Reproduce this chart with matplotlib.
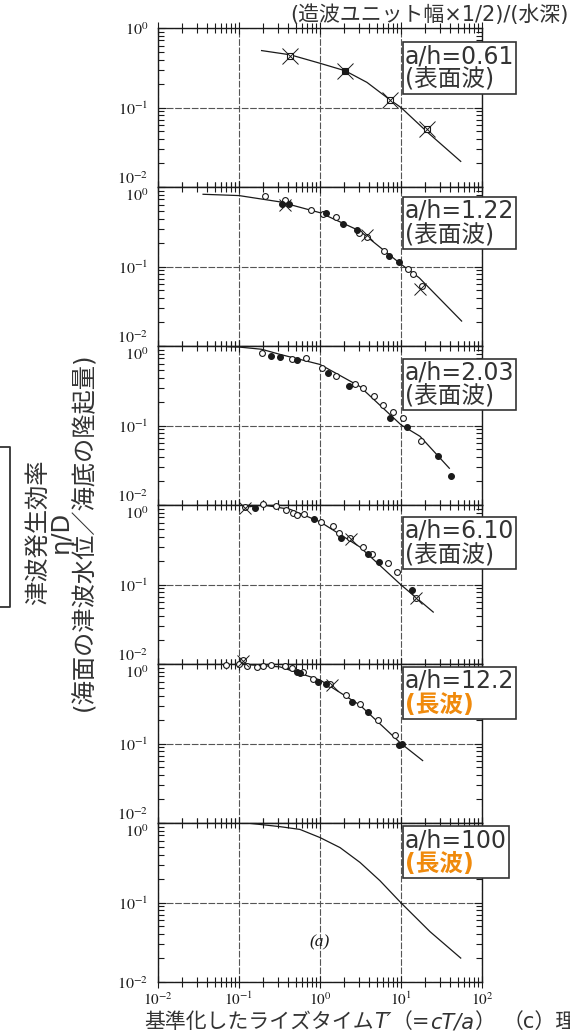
import numpy as np
import matplotlib
matplotlib.use("Agg")
import matplotlib.pyplot as plt
from matplotlib.lines import Line2D
from matplotlib.ticker import LogLocator, NullFormatter
from matplotlib.offsetbox import TextArea, HPacker, VPacker, AnnotationBbox

plt.rcParams['font.family'] = ['DejaVu Sans', 'Noto Sans CJK JP']
plt.rcParams['mathtext.fontset'] = 'stix'

# panel labels
ratios = ["0.61", "1.22", "2.03", "6.10", "12.2", "100"]
wave_types = ["(表面波)", "(表面波)", "(表面波)", "(表面波)", "(長波)", "(長波)"]
long_wave = [False, False, False, False, True, True]

# fitted curves
curve_x = [
    [0.19, 0.43, 1.0, 2.04, 3.8, 7.3, 10, 20.7, 54.6],
    [0.036, 0.1, 0.32, 1.0, 3.1, 10, 16.8, 56],
    [0.073, 0.1, 0.19, 0.32, 1.0, 3.1, 10, 17.2, 39.5],
    [0.113, 0.2, 0.43, 1.0, 3.1, 10, 25],
    [0.06, 0.1, 0.32, 1.0, 3.1, 10, 18.5],
    [0.04, 0.137, 0.32, 0.566, 1.0, 1.77, 3.12, 5.5, 10, 22.8, 54.6],
]
curve_y = [
    [0.52, 0.46, 0.36, 0.29, 0.207, 0.125, 0.1, 0.05, 0.021],
    [0.81, 0.78, 0.65, 0.475, 0.28, 0.107, 0.072, 0.0206],
    [0.98, 0.97, 0.91, 0.785, 0.586, 0.31, 0.102, 0.073, 0.029],
    [0.93, 1.0, 0.88, 0.615, 0.297, 0.099, 0.045],
    [1.0, 1.0, 0.92, 0.63, 0.305, 0.10, 0.061],
    [1.0, 0.99, 0.9, 0.83, 0.656, 0.49, 0.319, 0.188, 0.099, 0.043, 0.020],
]

# open symbols
open_x = [
    [0.43, 7.3, 20.7],
    [0.209, 0.37, 0.77, 1.1, 1.58, 3.06, 3.78, 6.17, 12.3, 14.2, 18],
    [0.19, 0.447, 0.67, 1.05, 1.58, 2.7, 3.36, 4.64, 6.05, 8.04, 10.7, 17.5],
    [0.119, 0.196, 0.29, 0.38, 0.46, 0.515, 0.634, 1.03, 1.43, 1.73, 2.35, 3.43,
     4.43, 6.97, 8.85, 15.3],
    [0.069, 0.101, 0.111, 0.124, 0.165, 0.2, 0.246, 0.37, 0.447, 0.61, 0.83, 1.33,
     2.09, 3.12, 5.25, 8.43],
    [],
]
open_y = [
    [0.44, 0.125, 0.053],
    [0.77, 0.68, 0.51, 0.46, 0.42, 0.266, 0.235, 0.157, 0.092, 0.080, 0.057],
    [0.82, 0.69, 0.705, 0.53, 0.425, 0.337, 0.297, 0.233, 0.183, 0.146, 0.124, 0.064],
    [0.95, 1.03, 0.97, 0.865, 0.80, 0.75, 0.77, 0.615, 0.54, 0.447, 0.379, 0.30,
     0.245, 0.186, 0.143, 0.068],
    [0.97, 1.0, 1.12, 0.94, 0.925, 0.94, 0.97, 0.94, 0.88, 0.80, 0.64, 0.56,
     0.41, 0.314, 0.198, 0.128],
    [],
]

# filled symbols
filled_x = [
    [2.04],
    [0.337, 0.41, 1.19, 1.94, 2.84, 7.2, 9.55],
    [0.246, 0.32, 0.515, 1.27, 2.3, 7.3, 12, 28.8, 41],
    [0.158, 0.85, 1.82, 3.96, 5.4, 13.5],
    [0.515, 0.566, 0.95, 1.19, 2.46, 3.96, 9.55, 10.4],
    [],
]
filled_y = [
    [0.286],
    [0.62, 0.61, 0.47, 0.34, 0.29, 0.136, 0.114],
    [0.75, 0.73, 0.665, 0.46, 0.31, 0.124, 0.095, 0.041, 0.023],
    [0.93, 0.66, 0.379, 0.24, 0.19, 0.086],
    [0.80, 0.78, 0.60, 0.555, 0.336, 0.25, 0.096, 0.10],
    [],
]

# error crosses
err_x = [
    [0.43, 2.04, 7.3, 20.7],
    [0.37, 3.8, 17],
    [],
    [0.12, 2.4, 15.3],
    [0.111, 1.4],
    [],
]
err_y = [
    [0.44, 0.286, 0.125, 0.053],
    [0.6, 0.25, 0.052],
    [],
    [0.93, 0.37, 0.068],
    [1.08, 0.55],
    [],
]

# text box top offset below each panel top, in pixels
box_offsets = [14, 10, 12.5, 12, 3, 3]

W, H = 570, 1033
fig = plt.figure(figsize=(W / 100, H / 100), dpi=100)

ax_left, ax_right = 158, 482
top0, bottom0 = 28, 982
ph = (bottom0 - top0) / 6

ink = '#1a1a1a'
text_col = '#333333'
orange = '#F08A0C'

axes = []
for i in range(6):
    b = 1 - (top0 + (i + 1) * ph) / H
    ax = fig.add_axes([ax_left / W, b, (ax_right - ax_left) / W, ph / H])
    axes.append(ax)

    ax.set_xscale('log')
    ax.set_yscale('log')
    ax.set_xlim(1e-2, 1e2)
    ax.set_ylim(1e-2, 1.0)

    ax.grid(True, which='major', color='#555555', lw=0.8, ls=(0, (6, 1.5)))

    ax.plot(curve_x[i], curve_y[i], color=ink, lw=0.9, zorder=3)
    mk = 's' if i == 0 else 'o'
    ax.plot(open_x[i], open_y[i], ls='none', marker=mk, ms=4.2, mfc='white',
            mec=ink, mew=0.8, zorder=4, clip_on=False)
    ax.plot(filled_x[i], filled_y[i], ls='none', marker=mk, ms=4.2, mfc=ink,
            mec=ink, mew=0.8, zorder=4, clip_on=False)
    ax.plot(err_x[i], err_y[i], ls='none', marker='x', ms=12 if i == 0 else 8,
            mec=ink, mew=0.7, zorder=4, clip_on=False)

    for s in ax.spines.values():
        s.set_color(ink)
        s.set_linewidth(1.0)

    ax.xaxis.set_minor_locator(LogLocator(base=10, subs=np.arange(2, 10)))
    ax.xaxis.set_minor_formatter(NullFormatter())
    ax.yaxis.set_minor_locator(LogLocator(base=10, subs=np.arange(2, 10)))
    ax.yaxis.set_minor_formatter(NullFormatter())

    ax.tick_params(axis='x', which='both', direction='inout', top=True, bottom=True,
                   labelbottom=(i == 5), color=ink)
    ax.tick_params(axis='x', which='minor', length=7, width=0.8)
    ax.tick_params(axis='x', which='major', length=9, width=0.8, pad=2, labelsize=11)
    ax.tick_params(axis='y', which='both', direction='in', left=True, right=True,
                   color=ink)
    ax.tick_params(axis='y', which='minor', length=4, width=0.8)
    ax.tick_params(axis='y', which='major', length=6, width=0.8, pad=7, labelsize=11.5)

    ax.set_xticks([1e-2, 1e-1, 1e0, 1e1, 1e2])
    if i == 5:
        ax.set_xticklabels([r'$10^{-2}$', r'$10^{-1}$', r'$10^{0}$', r'$10^{1}$', r'$10^{2}$'],
                           color=ink)
    ax.set_yticks([1e-2, 1e-1, 1e0])
    ax.set_yticklabels([r'$10^{-2}$', r'$10^{-1}$', r'$10^{0}$'], color=ink)
    ticks = ax.yaxis.get_major_ticks()
    if i < 5:
        ticks[0].label1.set_verticalalignment('bottom')
    if i > 0:
        ticks[2].label1.set_verticalalignment('top')

    # label box: dark first line, second line dark or bold orange
    x0 = (405 - ax_left) / (ax_right - ax_left)
    y0 = 1 - (box_offsets[i] + 2) / ph
    ta1 = TextArea(f"a/h={ratios[i]}", textprops=dict(fontsize=17, color=text_col))
    ta2 = TextArea(wave_types[i], textprops=dict(
        fontsize=17, color=orange if long_wave[i] else text_col,
        fontweight='bold' if long_wave[i] else 'normal'))
    vbox = VPacker(children=[ta1, ta2], align='left', pad=0, sep=0)
    ab = AnnotationBbox(vbox, (x0, y0), xycoords=ax.transAxes, box_alignment=(0, 1),
                        frameon=True, pad=0.12,
                        bboxprops=dict(ec=text_col, lw=1.2, fc='white'))
    ab.set_zorder(6)
    fig.add_artist(ab)

axes[5].text(1.0, 0.0316, "(a)", ha='center', va='center', fontsize=12.5,
             family='Liberation Serif', style='italic', color=ink)

# top label
fig.text(0.997, 1 - 15 / H, "(造波ユニット幅×1/2)/(水深)", ha='right', va='center',
         fontsize=15, color=text_col)

# y label
fig.text(61 / W, 1 - 532 / H, "津波発生効率\nη/D\n(海面の津波水位／海底の隆起量)",
         rotation=90, ha='center', va='center', multialignment='center',
         fontsize=17.5, linespacing=0.95, color=text_col)

# left bracket
fig.add_artist(Line2D([0, 9.5 / W, 9.5 / W, 0], [1 - 447 / H, 1 - 447 / H, 1 - 607 / H, 1 - 607 / H],
                      transform=fig.transFigure, color=text_col, lw=1.3))

# x label
parts = [("基準化したライズタイム", 'normal'), ("T′", 'italic'), ("（=", 'normal'),
         ("cT/a", 'italic'), ("）", 'normal')]
areas = [TextArea(s, textprops=dict(fontsize=15, style=st, color=text_col)) for s, st in parts]
pack = HPacker(children=areas, align='baseline', pad=0, sep=0)
xl = AnnotationBbox(pack, ((ax_left + ax_right) / 2 / W, 1 - 1022 / H), xycoords='figure fraction',
                    frameon=False, box_alignment=(0.5, 0.5), pad=0)
fig.add_artist(xl)

fig.text(503 / W, 1 - 1022 / H, "（c）理論", ha='left', va='center', fontsize=15, color=text_col)

fig.savefig("out.png", dpi=100)
